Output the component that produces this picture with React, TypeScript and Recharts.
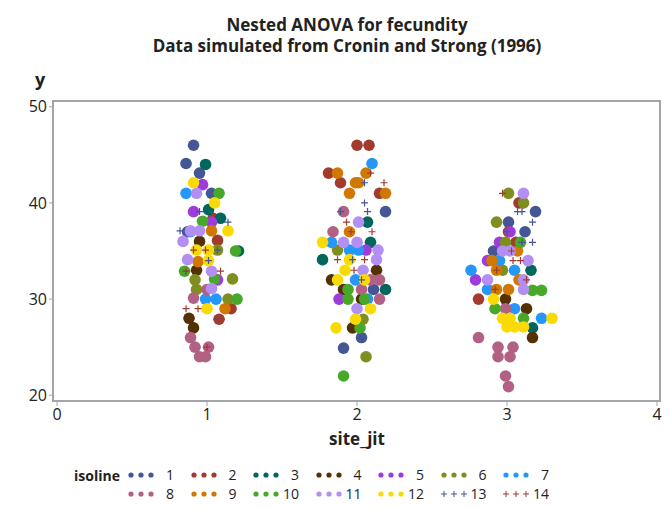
import { ScatterChart, Scatter, XAxis, YAxis, ReferenceArea } from "recharts";

// isoline labels, colours and marker symbols (SAS HTMLBlue style)
const isoNames = ["1", "2", "3", "4", "5", "6", "7", "8", "9", "10", "11", "12", "13", "14"];
const isoColors = [
    "#445694", "#A23A2E", "#01665E", "#543005", "#9D3CDB", "#7F8E1F", "#2597FA",
    "#B26084", "#D17800", "#47A82A", "#B38EF3", "#F9DA04", "#445694", "#A23A2E",
];
const isoSymbols = ["circle", "circle", "circle", "circle", "circle", "circle", "circle",
    "circle", "circle", "circle", "circle", "circle", "plus", "plus"];

const xTicks = [0, 1, 2, 3, 4];
const yTicks = [20, 30, 40, 50];

// [site_jit, y] per isoline
const iso1 = [[0.91, 46.0], [0.86, 44.1], [0.95, 43.1], [1.03, 41.0], [0.87, 37.0],
    [2.19, 39.1], [2.11, 31.0], [2.03, 26.0], [1.91, 24.9],
    [3.19, 39.1], [3.01, 38.0], [3.12, 37.0], [2.91, 35.0]];
const iso2 = [[1.08, 27.9], [1.16, 29.0], [1.04, 38.4], [1.07, 36.1],
    [2.0, 46.0], [2.08, 46.0], [1.81, 43.1], [1.89, 42.1], [2.15, 41.0],
    [3.08, 40.0], [3.01, 37.0], [3.06, 35.9], [2.81, 30.0]];
const iso3 = [[0.99, 44.0], [1.01, 39.3], [1.09, 38.4], [1.21, 35.0],
    [2.07, 38.0], [2.09, 35.9], [1.77, 34.1], [2.19, 31.0],
    [3.16, 33.0], [3.17, 27.0]];
const iso4 = [[0.95, 36.0], [0.93, 33.0], [0.88, 28.0], [0.91, 27.0],
    [2.13, 33.0], [1.83, 32.0], [1.91, 31.0], [2.03, 30.0], [1.97, 27.0],
    [2.99, 30.0], [3.13, 29.0], [3.17, 26.0]];
const iso5 = [[0.97, 41.9], [0.91, 39.1], [1.03, 38.0], [1.07, 32.0],
    [2.06, 35.1], [1.88, 30.0],
    [3.02, 37.0], [2.95, 35.9], [2.87, 34.0], [2.79, 32.0]];
const iso6 = [[0.92, 32.0], [0.93, 31.0], [1.17, 32.1], [1.14, 30.0], [1.07, 35.1],
    [1.87, 35.1], [2.04, 27.9], [2.06, 24.0],
    [3.01, 41.0], [3.11, 40.0], [2.93, 38.0], [2.99, 35.9], [2.97, 33.0]];
const iso7 = [[0.86, 41.0], [0.99, 30.0], [1.06, 30.0], [0.89, 37.0],
    [2.1, 44.1], [1.83, 35.9], [1.95, 35.1], [2.01, 35.1], [1.99, 32.0], [2.07, 30.0],
    [2.95, 34.0], [2.76, 33.0], [3.05, 33.0], [3.05, 29.0], [3.23, 28.0], [2.87, 31.0]];
const iso8 = [[0.91, 30.1], [0.89, 26.0], [0.92, 25.0], [1.01, 25.0], [0.95, 24.0], [0.99, 24.0], [1.0, 31.0],
    [1.91, 39.1], [1.84, 37.0], [2.09, 32.0], [2.15, 32.0], [2.03, 31.0], [2.15, 30.0],
    [2.99, 29.0], [2.81, 26.0], [2.94, 25.0], [3.04, 25.0], [2.94, 24.0], [3.02, 24.0], [2.99, 22.0], [3.01, 20.9]];
const iso9 = [[1.03, 37.1], [0.94, 33.9], [1.12, 29.0],
    [1.87, 43.1], [2.06, 43.1], [1.99, 42.1], [2.01, 42.1], [1.95, 41.0], [2.19, 41.0], [1.95, 37.0],
    [3.07, 35.0], [2.9, 34.0], [2.93, 33.0], [3.08, 32.0], [2.93, 31.0], [3.01, 31.0]];
const iso10 = [[1.08, 41.0], [0.97, 38.1], [0.85, 32.9], [1.05, 32.1], [1.2, 30.0], [1.19, 35.0],
    [1.94, 31.0], [1.94, 30.0], [2.05, 30.0], [2.02, 27.0], [1.91, 22.0],
    [3.09, 35.9], [3.17, 30.9], [3.23, 30.9], [2.92, 29.0], [3.11, 28.0]];
const iso11 = [[0.93, 41.0], [0.89, 37.1], [0.84, 36.0], [0.95, 37.1], [0.87, 34.1], [1.03, 31.1], [1.03, 32.9],
    [2.01, 38.0], [1.91, 35.9], [2.0, 35.9], [2.14, 35.1], [2.04, 33.0], [2.0, 29.0], [2.13, 34.1],
    [3.11, 41.0], [2.97, 35.0], [3.02, 35.0], [3.14, 34.0], [2.87, 32.0], [3.11, 32.0], [3.11, 31.0]];
const iso12 = [[0.91, 42.1], [1.05, 40.0], [1.14, 37.1], [1.01, 35.1], [1.01, 34.0], [1.0, 29.0], [0.93, 35.1],
    [1.77, 35.9], [1.95, 34.1], [1.92, 33.0], [1.87, 32.0], [2.05, 32.0], [2.09, 29.0], [1.99, 27.9], [1.86, 27.0],
    [2.91, 30.0], [2.97, 28.0], [3.02, 28.0], [3.0, 27.1], [3.05, 27.1], [3.11, 27.1], [3.3, 28.0]];
const iso13 = [[0.95, 39.1], [1.14, 38.0], [0.82, 37.1], [1.07, 35.1], [1.07, 27.9], [1.01, 34.0],
    [2.05, 40.0], [1.89, 39.1], [2.07, 39.1], [2.05, 42.1], [1.97, 34.1], [2.03, 32.0],
    [3.07, 39.1], [3.1, 39.1], [3.17, 38.0], [3.17, 35.9], [3.0, 37.0], [3.1, 35.9]];
const iso14 = [[0.86, 32.9], [1.09, 32.9], [0.86, 29.0], [0.94, 29.0], [1.0, 25.0], [0.99, 35.1], [0.91, 35.1],
    [2.09, 43.1], [2.18, 42.1], [1.93, 38.0], [2.1, 37.0], [1.96, 37.0], [1.87, 34.1], [1.98, 33.0], [2.05, 34.1],
    [2.97, 41.0], [3.03, 35.0], [3.04, 34.0], [3.09, 34.0], [2.93, 33.0], [3.13, 32.0], [2.92, 31.0]];

const isolines = [iso1, iso2, iso3, iso4, iso5, iso6, iso7, iso8, iso9, iso10, iso11, iso12, iso13, iso14];

const FONT = '"Open Sans", "DejaVu Sans", sans-serif';
const FRAME = "#a2a6aa";

function makeShape(color: string, sym: string) {
    return (props: any) => {
        const { cx, cy } = props;
        if (cx == null || cy == null) return <g />;
        if (sym === "plus") {
            return (
                <path
                    d={`M${cx - 3.5},${cy}H${cx + 3.5}M${cx},${cy - 3.5}V${cy + 3.5}`}
                    stroke={color}
                    strokeWidth={1.2}
                    fill="none"
                />
            );
        }
        return <circle cx={cx} cy={cy} r={5.8} fill={color} />;
    };
}

function LegendMark({ color, sym }: { color: string; sym: string }) {
    return (
        <svg width={26} height={10} style={{ display: "block" }}>
            {[3, 13, 23].map((x) =>
                sym === "plus" ? (
                    <path key={x} d={`M${x - 3},5H${x + 3}M${x},2V8`} stroke={color} strokeWidth={1} />
                ) : (
                    <circle key={x} cx={x} cy={5} r={2.6} fill={color} />
                )
            )}
        </svg>
    );
}

export default function App() {
    return (
        <div style={{ position: "absolute", left: 0, top: 0, width: 669, height: 508, background: "#fff", fontFamily: FONT, color: "#222" }}>
            <div style={{ position: "absolute", left: 0, width: 694, top: 14, textAlign: "center", fontWeight: 700, fontSize: 17, lineHeight: "21px" }}>
                Nested ANOVA for fecundity
                <br />
                Data simulated from Cronin and Strong (1996)
            </div>
            <div style={{ position: "absolute", left: 35, top: 68, fontWeight: 700, fontSize: 18, lineHeight: "22px" }}>y</div>

            <ScatterChart width={669} height={508} margin={{ top: 101, right: 9, bottom: 77, left: 13 }}>
                <XAxis
                    type="number"
                    dataKey="x"
                    domain={[-0.027, 4.02]}
                    ticks={xTicks}
                    allowDataOverflow
                    axisLine={false}
                    tickLine={{ stroke: FRAME }}
                    tickSize={5}
                    tickMargin={3}
                    height={30}
                    tick={{ fontSize: 16, fill: "#222", fontFamily: FONT }}
                />
                <YAxis
                    type="number"
                    dataKey="y"
                    domain={[19.4, 50.6]}
                    ticks={yTicks}
                    allowDataOverflow
                    axisLine={false}
                    tickLine={{ stroke: FRAME }}
                    tickSize={4}
                    tickMargin={2}
                    width={40}
                    tick={{ fontSize: 16, fill: "#222", fontFamily: FONT }}
                />
                <ReferenceArea x1={-0.027} x2={4.02} y1={19.4} y2={50.6} fill="none" stroke={FRAME} strokeWidth={2} />
                {isolines.map((pts, i) => (
                    <Scatter
                        key={isoNames[i]}
                        name={isoNames[i]}
                        data={pts.map(([x, y]) => ({ x, y }))}
                        fill={isoColors[i]}
                        shape={makeShape(isoColors[i], isoSymbols[i])}
                        isAnimationActive={false}
                    />
                ))}
            </ScatterChart>

            <div style={{ position: "absolute", left: 0, width: 714, top: 429, textAlign: "center", fontWeight: 700, fontSize: 17, lineHeight: "20px" }}>site_jit</div>

            <div style={{ position: "absolute", left: 74, top: 468, fontWeight: 700, fontSize: 14, lineHeight: "15px" }}>isoline</div>
            {isoNames.map((name, i) => {
                const col = i % 7;
                const row = Math.floor(i / 7);
                const left = 128 + 62.5 * col;
                const top = 467 + row * 19;
                return (
                    <div key={name} style={{ position: "absolute", left, top, width: 46, height: 15, fontSize: 14, lineHeight: "15px" }}>
                        <div style={{ position: "absolute", left: 0, top: 3 }}>
                            <LegendMark color={isoColors[i]} sym={isoSymbols[i]} />
                        </div>
                        <div style={{ position: "absolute", right: 0, top: 0, textAlign: "right" }}>{name}</div>
                    </div>
                );
            })}
        </div>
    );
}
